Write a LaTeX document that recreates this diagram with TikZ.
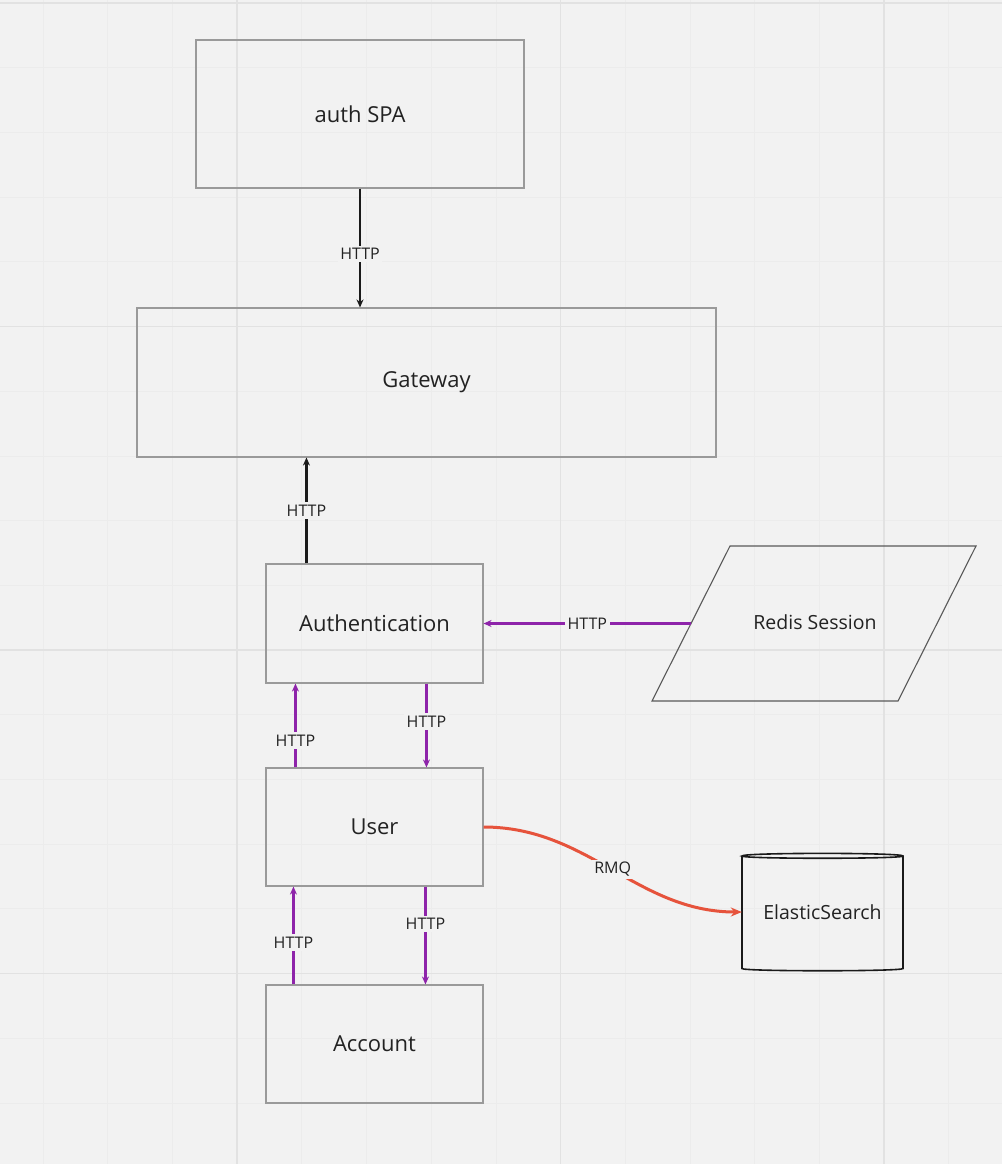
\documentclass[tikz,border=0pt]{standalone}
\usepackage{fontspec}
\setmainfont{Open Sans}
\usetikzlibrary{arrows.meta,calc}
\definecolor{bg}{HTML}{F2F2F2}
\definecolor{minorgrid}{HTML}{ECECEC}
\definecolor{majorgrid}{HTML}{E2E2E2}
\definecolor{boxline}{HTML}{9A9A9A}
\definecolor{txt}{HTML}{222222}
\definecolor{purp}{HTML}{8E24AA}
\definecolor{rmq}{HTML}{E6533C}
\definecolor{blk}{HTML}{1A1A1A}
\tikzset{
  minorline/.style={draw=minorgrid, line width=0.8pt},
  majorline/.style={draw=majorgrid, line width=1.6pt},
  boxnode/.style={draw=boxline, line width=1.1pt, text=txt, font=\fontsize{22}{26}\selectfont, inner sep=0pt},
  shapetext/.style={text=txt, font=\fontsize{19.5}{23}\selectfont, inner sep=0pt},
  lbl/.style={fill=bg, text=txt, font=\fontsize{16}{19}\selectfont, inner sep=2.5pt},
  blkarrow/.style={draw=blk, line width=2.2pt, -{Stealth[length=8pt,width=7pt]}},
  purarrow/.style={draw=purp, line width=2.2pt, -{Stealth[length=8pt,width=7pt]}},
  rmqarrow/.style={draw=rmq, line width=3pt, -{Stealth[length=11pt,width=9pt]}},
  darkshape/.style={draw=blk, line width=1.6pt},
  paraline/.style={draw=black!65, line width=1.1pt}
}
\begin{document}
\begin{tikzpicture}[x=1pt,y=-1pt]
\useasboundingbox (0,0) rectangle (1002,1164);
\fill[bg] (0,0) rectangle (1002,1164);
% grid
\foreach \k in {0,...,14} \draw[minorline] ({43+64.7*\k},0) -- ({43+64.7*\k},1164);
\foreach \k in {0,...,17} \draw[minorline] (0,{3+64.7*\k}) -- (1002,{3+64.7*\k});
\foreach \x in {237.1,560.6,884.1} \draw[majorline] (\x,0) -- (\x,1164);
\foreach \y in {3,326.5,650,973.5} \draw[majorline] (0,\y) -- (1002,\y);

% boxes
\node[boxnode, minimum width=328pt, minimum height=148pt] (spa) at (360,114) {auth SPA};
\node[boxnode, minimum width=579pt, minimum height=149pt] (gw) at (426.5,382.5) {Gateway};
\node[boxnode, minimum width=217pt, minimum height=119pt] (auth) at (374.5,623.5) {Authentication};
\node[boxnode, minimum width=217pt, minimum height=118pt] (user) at (374.5,827) {User};
\node[boxnode, minimum width=217pt, minimum height=118pt] (acct) at (374.5,1044) {Account};

% Redis Session parallelogram
\coordinate (rTL) at (730,546);
\coordinate (rTR) at (976,546);
\coordinate (rBR) at (898,701);
\coordinate (rBL) at (652,701);
\draw[paraline] (rTL) -- (rTR) -- (rBR) -- (rBL) -- cycle;
\coordinate (redisL) at (691,623.5);
\node[shapetext] (redis) at (815,622) {Redis Session};

% ElasticSearch cylinder
\draw[darkshape] (742,856) -- (742,968.5) .. controls (742,971.5) and (903,971.5) .. (903,968.5) -- (903,856)
  .. controls (903,852.5) and (742,852.5) .. (742,856) .. controls (742,859) and (903,859) .. (903,856);
\node[shapetext, minimum width=161pt, minimum height=116pt] (es) at (822.5,912) {ElasticSearch};

% connector start points
\coordinate (p1) at ($(auth.north west)+(41,0)$);
\coordinate (p2) at ($(auth.south west)+(161,0)$);
\coordinate (p3) at ($(user.north west)+(30,0)$);
\coordinate (p4) at ($(user.south west)+(160,0)$);
\coordinate (p5) at ($(acct.north west)+(28,0)$);

% connectors
\draw[blkarrow] (spa.south) -- node[lbl, pos=0.55] {HTTP} (spa.south |- gw.north);
\draw[blkarrow] (p1) -- node[lbl, pos=0.5] {HTTP} (p1 |- gw.south);
\draw[purarrow] (redisL) -- node[lbl, pos=0.5] {HTTP} (auth.east);
\draw[purarrow] (p2) -- node[lbl, pos=0.45] {HTTP} (p2 |- user.north);
\draw[purarrow] (p3) -- node[lbl, pos=0.32] {HTTP} (p3 |- auth.south);
\draw[purarrow] (p4) -- node[lbl, pos=0.38] {HTTP} (p4 |- acct.north);
\draw[purarrow] (p5) -- node[lbl, pos=0.43] {HTTP} (p5 |- user.south);
\draw[rmqarrow] (user.east) .. controls +(105,0) and +(-105,0) .. node[lbl, pos=0.5] {RMQ} (es.west);
\end{tikzpicture}
\end{document}
